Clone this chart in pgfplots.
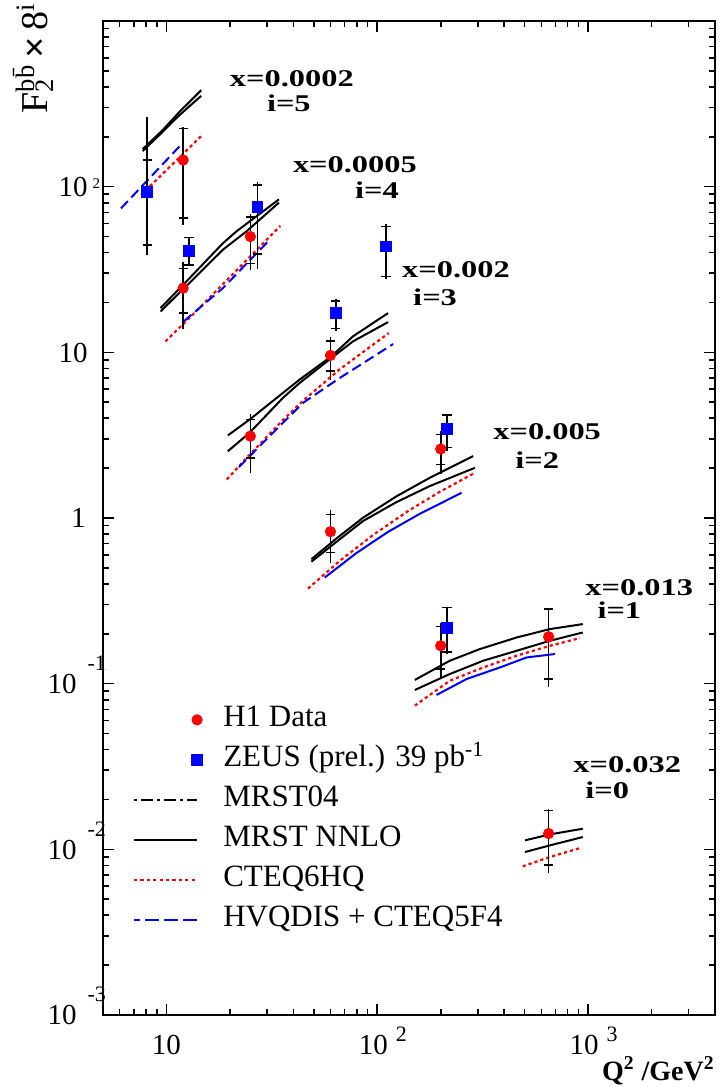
\documentclass[border=0pt]{standalone}
\usepackage{fontspec}
\setmainfont{Liberation Serif}
\usepackage{pgfplots}
\pgfplotsset{compat=1.18}

% exponent hanging to the right of the tick label
\newcommand\expo[2]{\rlap{\raisebox{#1}{\fontsize{11}{11}\selectfont #2}}}
% bin annotations (bold, a bit stretched like the original)
\newcommand\ann[1]{\scalebox{1.35}[1]{\fontsize{12}{12}\selectfont\bfseries #1}}

\pgfplotsset{
  mrst/.style={black, line width=1pt, solid},
  cteq/.style={red, line width=1.1pt, dash pattern=on 1.6pt off 1.5pt},
  hvq/.style={blue, line width=1pt, dash pattern=on 5pt off 2.5pt},
  hvqs/.style={blue, line width=1pt, solid},
  errtot/.style={only marks, mark=none, forget plot,
    error bars/.cd, y dir=both, y explicit, error mark=none,
    error bar style={black, line width=0.85pt, solid}},
  errstat/.style={only marks, mark=none, forget plot,
    error bars/.cd, y dir=both, y explicit, error mark=-,
    error bar style={black, line width=0.85pt, solid},
    error mark options={rotate=90, black, line width=0.85pt, mark size=2.3pt}},
  h1leg/.style={legend image code/.code={\draw[red, fill=red, only marks, mark=*, mark size=2.6pt] plot coordinates {(31.5pt,0pt)};}},
  zeusleg/.style={legend image code/.code={\draw[blue, fill=blue, only marks, mark=square*, mark size=2.6pt] plot coordinates {(31.5pt,0pt)};}},
  mrst4leg/.style={legend image code/.code={\draw[black, line width=1pt, dash pattern=on 1.5pt off 2pt on 6pt off 2pt] (0pt,0pt) -- (31.5pt,0pt);}},
  mrstnleg/.style={legend image code/.code={\draw[black, line width=1pt] (0pt,0pt) -- (31.5pt,0pt);}},
  cteqleg/.style={legend image code/.code={\draw[red, line width=1.1pt, dash pattern=on 1.6pt off 1.6pt] (0pt,0pt) -- (31.5pt,0pt);}},
  hvqleg/.style={legend image code/.code={\draw[blue, line width=1pt, dash pattern=on 7pt off 2.5pt] (31.5pt,0pt) -- (0pt,0pt);}},
}

\begin{document}
\begin{tikzpicture}
\begin{axis}[
  xmode=log, ymode=log,
  scale only axis, width=306pt, height=497pt,
  xmin=5, xmax=4000, ymin=1e-3, ymax=1e3,
  axis line style={line width=0.85pt},
  tick align=inside,
  major tick length=5.5pt, minor tick length=3pt,
  every tick/.style={black, line width=0.8pt},
  xtick={10,100,1000},
  xticklabels={{10},{10\kern4pt\expo{6.5pt}{2}},{10\kern4pt\expo{6.5pt}{3}}},
  minor xtick={6,7,8,9,20,30,40,50,60,70,80,90,200,300,400,500,600,700,800,900,2000,3000},
  ytick={1e-3,1e-2,1e-1,1,10,100},
  yticklabels={{10\kern5.5pt\expo{11.5pt}{-3}},{10\kern5.5pt\expo{11.5pt}{-2}},{10\kern5.5pt\expo{11.5pt}{-1}},{1\kern1pt},{10},{10\expo{4pt}{\kern2.5pt\fontsize{7.5}{7.5}\selectfont 2}}},
  minor ytick={0.002,0.003,0.004,0.005,0.006,0.007,0.008,0.009,
    0.02,0.03,0.04,0.05,0.06,0.07,0.08,0.09,
    0.2,0.3,0.4,0.5,0.6,0.7,0.8,0.9,
    2,3,4,5,6,7,8,9,20,30,40,50,60,70,80,90,
    200,300,400,500,600,700,800,900},
  xticklabel style={anchor=base, inner sep=0pt, yshift=-19.5pt, font=\fontsize{14.5}{14.5}\selectfont},
  yticklabel style={anchor=base east, inner sep=0pt, xshift=-7.5pt, yshift=-4.9pt, font=\fontsize{14.5}{14.5}\selectfont},
  legend cell align=left,
  legend style={at={(0.049,0.312)}, anchor=north west, draw=none, fill=none,
    inner sep=0pt, outer sep=0pt, row sep=5pt,
    nodes={inner sep=0pt, text height=11pt, text depth=4pt, font=\fontsize{15.5}{15.5}\selectfont},
    /tikz/every odd column/.append style={column sep=10.5pt}},
]

% ---- i=5, x=0.0002
\addplot[mrst, forget plot] coordinates {(7.72,168.7) (9.60,219.6) (11.53,283.0) (14.62,382.4)};
\addplot[mrst, forget plot] coordinates {(7.72,164.1) (9.60,214.5) (11.53,270.4) (14.62,353.4)};
\addplot[cteq, forget plot] coordinates {(7.58,89.1) (14.62,202.0)};
\addplot[hvq, forget plot] coordinates {(6.09,74.0) (11.88,182.3)};

% ---- i=4, x=0.0005
\addplot[mrst, forget plot] coordinates {(9.37,18.49) (12.86,28.0) (18.51,45.5) (21.43,53.6) (34.17,83.8)};
\addplot[mrst, forget plot] coordinates {(9.37,17.66) (12.86,26.2) (18.51,41.6) (23.91,53.6) (34.17,80.1)};
\addplot[cteq, forget plot] coordinates {(9.89,11.65) (13.33,16.88) (34.69,58.0)};
\addplot[hvq, forget plot] coordinates {(12.08,15.38) (18.51,24.4) (30.29,46.6)};

% ---- i=3, x=0.002
\addplot[mrst, forget plot] coordinates {(19.55,3.15) (24.80,3.93) (35.69,5.69) (42.83,6.85) (60.60,9.46) (76.74,12.49) (112.5,17.25)};
\addplot[mrst, forget plot] coordinates {(19.55,2.53) (24.80,3.27) (35.69,5.31) (42.83,6.53) (60.60,9.24) (76.74,11.65) (112.5,15.22)};
\addplot[cteq, forget plot] coordinates {(19.34,1.71) (24.80,2.41) (35.69,3.90) (44.41,5.10) (66.35,7.90) (113.4,13.07)};
\addplot[hvq, forget plot] coordinates {(22.06,2.03) (29.76,2.98) (44.41,4.95) (66.35,7.00) (118.9,11.22)};

% ---- i=2, x=0.005
\addplot[mrst, forget plot] coordinates {(48.70,0.564) (64.57,0.759) (85.62,1.004) (123.0,1.349) (177.6,1.749) (285.2,2.364)};
\addplot[mrst, forget plot] coordinates {(48.70,0.545) (64.57,0.724) (85.62,0.959) (123.0,1.245) (177.6,1.559) (290.6,2.009)};
\addplot[cteq, forget plot] coordinates {(46.93,0.375) (66.35,0.551) (95.50,0.790) (141.3,1.110) (199.5,1.447) (290.6,1.875)};
\addplot[hvqs, forget plot] coordinates {(56.31,0.437) (79.43,0.613) (112.2,0.823) (158.5,1.057) (251.2,1.420)};

% ---- i=1, x=0.013
\addplot[mrst, forget plot] coordinates {(150.7,0.1053) (221.0,0.1376) (306.9,0.1618) (458.5,0.1901) (659.9,0.2136) (943.7,0.2289)};
\addplot[mrst, forget plot] coordinates {(150.7,0.0916) (221.0,0.1144) (318.2,0.1376) (458.5,0.1580) (659.9,0.1816) (943.7,0.2037)};
\addplot[cteq, forget plot] coordinates {(150.7,0.0737) (221.0,0.1042) (318.2,0.1253) (458.5,0.1475) (659.9,0.1694) (916.2,0.1885)};
\addplot[hvqs, forget plot] coordinates {(191.1,0.0855) (265.4,0.1067) (381.9,0.1253) (511.4,0.1440) (696.9,0.1510)};

% ---- i=0, x=0.032
\addplot[mrst, forget plot] coordinates {(502.0,0.01133) (659.9,0.01231) (943.7,0.01332)};
\addplot[mrst, forget plot] coordinates {(502.0,0.00963) (659.9,0.01057) (943.7,0.01186)};
\addplot[cteq, forget plot] coordinates {(489.6,0.00790) (659.9,0.00899) (916.2,0.01018)};

% ---- ZEUS (prel.) errors
\addplot[errtot] coordinates {
  (8.1,93.3) += (0,171) -= (0,54.4)
  (12.8,41.1) += (0,8.5) -= (0,8.0)
  (27,75.8) += (0,30.3) -= (0,43.8)
  (63.5,17.3) += (0,3.8) -= (0,3.9)
  (110,43.6) += (0,16.2) -= (0,15.7)
  (214,3.45) += (0,0.80) -= (0,0.91)
  (214,0.218) += (0,0.072) -= (0,0.066)};
\addplot[errstat] coordinates {
  (8.1,93.3) += (0,52) -= (0,49)
  (12.8,41.1) += (0,8.2) -= (0,7.4)
  (27,75.8) += (0,27) -= (0,36.7)
  (63.5,17.3) += (0,3.2) -= (0,3.4)
  (110,43.6) += (0,14.0) -= (0,14.9)
  (214,3.45) += (0,0.75) -= (0,0.79)
  (214,0.218) += (0,0.070) -= (0,0.0634)};

% ---- H1 errors
\addplot[errtot] coordinates {
  (12,144.8) += (0,85.0) -= (0,86.0)
  (12,24.4) += (0,10.9) -= (0,10.6)
  (25,50.0) += (0,18.7) -= (0,18.4)
  (25,3.12) += (0,1.12) -= (0,1.25)
  (60,9.59) += (0,2.71) -= (0,2.74)
  (60,0.827) += (0,0.290) -= (0,0.289)
  (200,2.61) += (0,0.73) -= (0,0.77)
  (200,0.1694) += (0,0.0636) -= (0,0.0627)
  (650,0.192) += (0,0.096) -= (0,0.097)
  (650,0.01245) += (0,0.00513) -= (0,0.00529)};
\addplot[errstat] coordinates {
  (12,144.8) += (0,79.6) -= (0,79.8)
  (12,24.4) += (0,7.7) -= (0,7.2)
  (25,50.0) += (0,15.9) -= (0,15.6)
  (25,3.12) += (0,0.82) -= (0,0.81)
  (60,9.59) += (0,2.16) -= (0,1.90)
  (60,0.827) += (0,0.225) -= (0,0.209)
  (200,2.61) += (0,0.58) -= (0,0.51)
  (200,0.1694) += (0,0.0516) -= (0,0.0467)
  (650,0.192) += (0,0.090) -= (0,0.0853)
  (650,0.01245) += (0,0.00473) -= (0,0.00443)};

\addplot[only marks, mark=square*, blue, mark size=2.7pt, forget plot] coordinates {
  (8.1,93.3) (12.8,41.1) (27,75.8) (63.5,17.3) (110,43.6) (214,3.45) (214,0.218)};
\addplot[only marks, mark=*, red, mark size=2.6pt, forget plot] coordinates {
  (12,144.8) (12,24.4) (25,50.0) (25,3.12) (60,9.59) (60,0.827) (200,2.61) (200,0.1694) (650,0.192) (650,0.01245)};

% ---- legend
\addlegendimage{h1leg}\addlegendentry{H1 Data}
\addlegendimage{zeusleg}\addlegendentry{ZEUS (prel.) 39 pb\textsuperscript{-1}}
\addlegendimage{mrst4leg}\addlegendentry{MRST04}
\addlegendimage{mrstnleg}\addlegendentry{MRST NNLO}
\addlegendimage{cteqleg}\addlegendentry{CTEQ6HQ}
\addlegendimage{hvqleg}\addlegendentry{HVQDIS + CTEQ5F4}

% ---- bin labels
\node[anchor=base west, inner sep=0pt] at (axis cs:19.92,400.4) {\ann{x=0.0002}};
\node[anchor=base west, inner sep=0pt] at (axis cs:29.86,283.0) {\ann{i=5}};
\node[anchor=base west, inner sep=0pt] at (axis cs:39.68,121.4) {\ann{x=0.0005}};
\node[anchor=base west, inner sep=0pt] at (axis cs:78.2,84.7) {\ann{i=4}};
\node[anchor=base west, inner sep=0pt] at (axis cs:130.7,28.3) {\ann{x=0.002}};
\node[anchor=base west, inner sep=0pt] at (axis cs:147.5,19.19) {\ann{i=3}};
\node[anchor=base west, inner sep=0pt] at (axis cs:353.8,2.99) {\ann{x=0.005}};
\node[anchor=base west, inner sep=0pt] at (axis cs:450.1,2.001) {\ann{i=2}};
\node[anchor=base west, inner sep=0pt] at (axis cs:967.5,0.3389) {\ann{x=0.013}};
\node[anchor=base west, inner sep=0pt] at (axis cs:1103.6,0.2463) {\ann{i=1}};
\node[anchor=base west, inner sep=0pt] at (axis cs:848.7,0.02910) {\ann{x=0.032}};
\node[anchor=base west, inner sep=0pt] at (axis cs:967.5,0.02029) {\ann{i=0}};

\coordinate (sw) at (rel axis cs:0,0);
\coordinate (ne) at (rel axis cs:1,1);
\end{axis}

% ---- axis titles
\node[rotate=90, anchor=east, inner sep=0pt, font=\fontsize{19}{19}\selectfont]
  at ([shift={(-35pt,506pt)}]sw) {F\rlap{\textsubscript{2}}\textsuperscript{b\={b}}\kern3pt\textbf{×}\kern3pt8\textsuperscript{i}};
\node[anchor=base east, inner sep=0pt, font=\fontsize{14}{14}\selectfont\bfseries]
  at ([shift={(306pt,-32.5pt)}]sw) {Q\textsuperscript{2} /GeV\textsuperscript{2}};

\pgfresetboundingbox
\path[use as bounding box] ([xshift=-51.5pt,yshift=-36pt]sw) rectangle ([xshift=2pt,yshift=10.5pt]ne);
\end{tikzpicture}
\end{document}
